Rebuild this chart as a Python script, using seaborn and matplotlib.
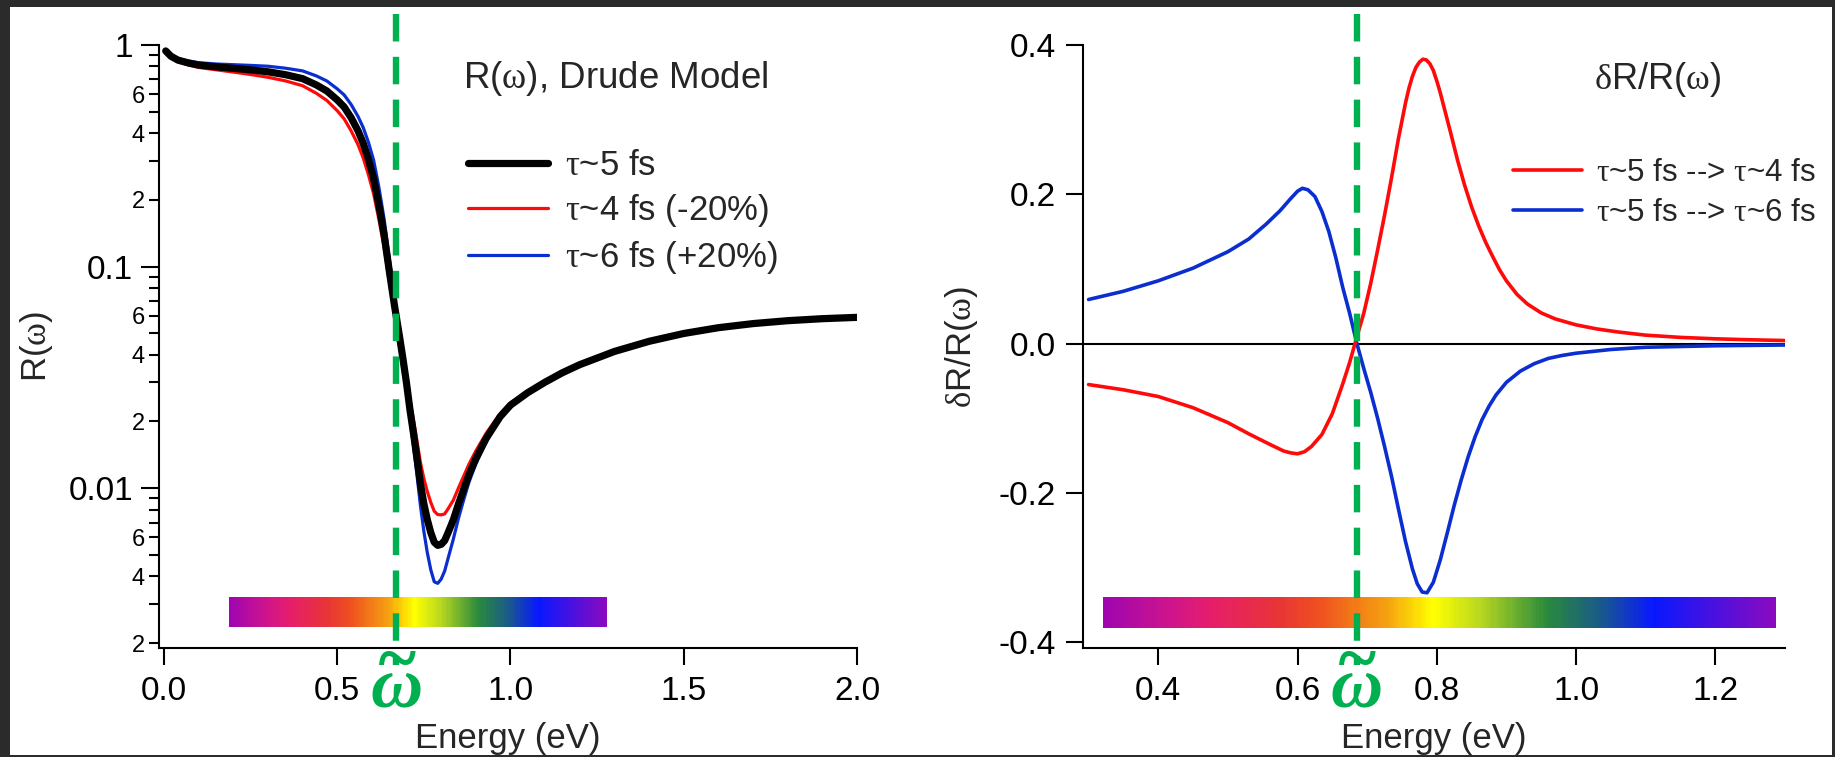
import numpy as np
import pandas as pd
import matplotlib
matplotlib.use("Agg")
import matplotlib.pyplot as plt
import matplotlib.transforms as mtransforms
import seaborn as sns
from matplotlib.colors import LinearSegmentedColormap
from matplotlib.lines import Line2D
from matplotlib.patches import Rectangle
from matplotlib.ticker import FixedLocator, FixedFormatter

# ---------------------------------------------------------------- data
# Reflectivity R(omega) of the Drude model for three scattering times
E_left = [0.005, 0.02, 0.04, 0.07, 0.10, 0.15, 0.20, 0.25, 0.30, 0.35,
          0.40, 0.44, 0.47, 0.50, 0.52, 0.54, 0.56, 0.575, 0.59, 0.605,
          0.62, 0.635, 0.65, 0.665, 0.68, 0.69, 0.70, 0.71, 0.72, 0.73,
          0.74, 0.75, 0.76, 0.77, 0.78, 0.79, 0.80, 0.81, 0.82, 0.835,
          0.85, 0.865, 0.88, 0.90, 0.93, 0.97, 1.00, 1.05, 1.10, 1.15,
          1.20, 1.30, 1.40, 1.50, 1.60, 1.70, 1.80, 1.90, 2.00]
R_5fs = [0.94, 0.89, 0.855, 0.83, 0.812, 0.797, 0.785, 0.772, 0.757, 0.735,
         0.705, 0.66, 0.62, 0.565, 0.525, 0.47, 0.41, 0.36, 0.305, 0.25,
         0.19, 0.14, 0.096, 0.067, 0.048, 0.038, 0.0297, 0.0225, 0.0177, 0.0137,
         0.0105, 0.0085, 0.0072, 0.0063, 0.0057, 0.00552, 0.00558, 0.0058, 0.0063, 0.0072,
         0.0085, 0.0099, 0.0115, 0.0136, 0.0168, 0.021, 0.0237, 0.0270, 0.0301, 0.0332,
         0.0361, 0.0414, 0.0460, 0.0499, 0.0530, 0.0553, 0.0570, 0.0582, 0.0590]
R_4fs = [0.935, 0.881, 0.842, 0.813, 0.792, 0.773, 0.755, 0.736, 0.715, 0.689,
         0.655, 0.605, 0.562, 0.505, 0.464, 0.410, 0.355, 0.309, 0.260, 0.213,
         0.164, 0.123, 0.087, 0.0634, 0.0476, 0.0389, 0.0315, 0.0248, 0.0203, 0.01639,
         0.0131, 0.01103, 0.00965, 0.00862, 0.00787, 0.00760, 0.00758, 0.00765, 0.00808, 0.00883,
         0.01003, 0.01134, 0.01282, 0.01473, 0.01772, 0.02167, 0.02427, 0.02743, 0.03043, 0.03347,
         0.03632, 0.04157, 0.0462, 0.0501, 0.0532, 0.0555, 0.0571, 0.0583, 0.0591]
R_6fs = [0.945, 0.899, 0.868, 0.847, 0.832, 0.821, 0.815, 0.809, 0.802, 0.786,
         0.764, 0.725, 0.688, 0.634, 0.595, 0.539, 0.476, 0.424, 0.364, 0.302,
         0.229, 0.165, 0.109, 0.072, 0.0488, 0.0372, 0.0282, 0.0206, 0.01556, 0.01152,
         0.00837, 0.00638, 0.00511, 0.00428, 0.00378, 0.00372, 0.00389, 0.00423, 0.00483, 0.00589,
         0.00733, 0.00887, 0.01063, 0.01287, 0.01624, 0.02062, 0.02339, 0.02678, 0.02995, 0.03307,
         0.03599, 0.04132, 0.0459, 0.0498, 0.0529, 0.0552, 0.0569, 0.0581, 0.0589]

# Relative change dR/R when tau goes 5 fs -> 4 fs
E_red = [0.30, 0.35, 0.40, 0.45, 0.50, 0.53, 0.56, 0.58, 0.59, 0.60,
         0.61, 0.62, 0.635, 0.65, 0.665, 0.675, 0.685, 0.695, 0.705, 0.715,
         0.725, 0.735, 0.745, 0.755, 0.76, 0.765, 0.77, 0.775, 0.78, 0.785,
         0.79, 0.795, 0.80, 0.805, 0.81, 0.82, 0.83, 0.84, 0.85, 0.86,
         0.87, 0.88, 0.89, 0.90, 0.915, 0.93, 0.95, 0.97, 1.00, 1.03,
         1.06, 1.10, 1.15, 1.20, 1.25, 1.30]
dR_red = [-0.055, -0.062, -0.071, -0.086, -0.106, -0.121, -0.135, -0.144, -0.1465, -0.1478,
          -0.145, -0.138, -0.122, -0.094, -0.054, -0.025, 0.008, 0.040, 0.080, 0.125,
          0.172, 0.222, 0.275, 0.322, 0.342, 0.358, 0.370, 0.377, 0.381, 0.380,
          0.375, 0.366, 0.352, 0.336, 0.318, 0.282, 0.245, 0.212, 0.183, 0.158,
          0.136, 0.117, 0.099, 0.084, 0.066, 0.053, 0.041, 0.033, 0.025, 0.0195,
          0.0155, 0.0112, 0.0082, 0.0063, 0.0050, 0.0040]

# Relative change dR/R when tau goes 5 fs -> 6 fs
E_blue = [0.30, 0.35, 0.40, 0.45, 0.50, 0.53, 0.555, 0.575, 0.59, 0.60,
          0.607, 0.615, 0.625, 0.635, 0.645, 0.655, 0.665, 0.675, 0.685, 0.695,
          0.705, 0.715, 0.725, 0.735, 0.745, 0.755, 0.765, 0.772, 0.779, 0.786,
          0.795, 0.805, 0.815, 0.825, 0.835, 0.845, 0.855, 0.865, 0.875, 0.885,
          0.90, 0.92, 0.94, 0.96, 0.98, 1.00, 1.05, 1.10, 1.15, 1.20, 1.30]
dR_blue = [0.059, 0.070, 0.084, 0.101, 0.123, 0.140, 0.160, 0.178, 0.194, 0.204,
           0.208, 0.206, 0.197, 0.177, 0.150, 0.115, 0.075, 0.040, 0.001, -0.033,
           -0.065, -0.100, -0.138, -0.178, -0.222, -0.265, -0.302, -0.322, -0.333, -0.334,
           -0.320, -0.290, -0.254, -0.217, -0.183, -0.152, -0.125, -0.102, -0.084, -0.069,
           -0.052, -0.037, -0.027, -0.020, -0.016, -0.013, -0.008, -0.005, -0.004, -0.003, -0.002]

# Characteristic frequency marked on both panels (eV)
omega_tilde_left = 0.67
omega_tilde_right = 0.685

# Tick positions and labels
left_xticks = [0.0, 0.5, 1.0, 1.5, 2.0]
left_xlabels = ["0.0", "0.5", "1.0", "1.5", "2.0"]
left_yticks = [1.0, 0.1, 0.01]
left_ylabels = ["1", "0.1", "0.01"]
right_xticks = [0.4, 0.6, 0.8, 1.0, 1.2]
right_xlabels = ["0.4", "0.6", "0.8", "1.0", "1.2"]
right_yticks = [-0.4, -0.2, 0.0, 0.2, 0.4]
right_ylabels = ["-0.4", "-0.2", "0.0", "0.2", "0.4"]

# Visible-spectrum strip colours
spectrum_stops = [0.00, 0.10, 0.16, 0.26, 0.32, 0.42, 0.49, 0.56, 0.66, 0.74, 0.82, 1.00]
spectrum_colors = ["#a005b0", "#d0158a", "#e61e6a", "#e83535", "#ef5020", "#f5a010",
                   "#ffff00", "#b8d820", "#2a8a3c", "#1a5a8a", "#0818ff", "#8a0ac0"]

# ---------------------------------------------------------------- style
sns.set_style("ticks")
plt.rcParams["font.family"] = ["Liberation Sans", "DejaVu Sans"]
plt.rcParams["mathtext.fontset"] = "custom"
plt.rcParams["mathtext.rm"] = "Liberation Serif"
plt.rcParams["mathtext.it"] = "Liberation Serif:italic"
plt.rcParams["mathtext.bf"] = "Liberation Serif:bold"
plt.rcParams["axes.linewidth"] = 1.5

RED = "#ff0a0a"
BLUE = "#0a2ecf"
GREEN = "#00b050"
FRAME = "#2b2b2b"

W, H = 1835, 757
fig = plt.figure(figsize=(W / 100, H / 100), dpi=100)
fig.patch.set_facecolor("white")

ax1 = fig.add_axes([159 / W, 1 - 648 / H, (857 - 159) / W, (648 - 45) / H])
ax2 = fig.add_axes([1083 / W, 1 - 648 / H, (1785 - 1083) / W, (648 - 45) / H])

spectrum = LinearSegmentedColormap.from_list("spectrum", list(zip(spectrum_stops, spectrum_colors)))

# ---------------------------------------------------------------- left panel
df_left = pd.DataFrame({"E": E_left, "R5": R_5fs, "R4": R_4fs, "R6": R_6fs})
lab5 = r"$\mathrm{\tau}$~5 fs"
lab4 = r"$\mathrm{\tau}$~4 fs (-20%)"
lab6 = r"$\mathrm{\tau}$~6 fs (+20%)"
sns.lineplot(data=df_left, x="E", y="R4", ax=ax1, color=RED, lw=2.3, legend=False)
sns.lineplot(data=df_left, x="E", y="R6", ax=ax1, color=BLUE, lw=2.3, legend=False)
sns.lineplot(data=df_left, x="E", y="R5", ax=ax1, color="black", lw=5.2, legend=False,
             solid_capstyle="round", solid_joinstyle="round")
ax1.set_yscale("log")
ax1.set_xlim(-0.0144, 2.0)
ax1.set_ylim(0.0019, 1.0)

# spectrum strip
xe = np.linspace(0.188, 1.279, 301)
ax1.pcolormesh(xe, [0.002365, 0.00323], np.linspace(0, 1, 300)[np.newaxis, :],
               cmap=spectrum, shading="flat", antialiased=False, zorder=1)

ax1.xaxis.set_major_locator(FixedLocator(left_xticks))
ax1.xaxis.set_major_formatter(FixedFormatter(left_xlabels))
ax1.yaxis.set_major_locator(FixedLocator(left_yticks))
ax1.yaxis.set_major_formatter(FixedFormatter(left_ylabels))
minor_vals, minor_labs = [], []
for dec in [0.1, 0.01, 0.001]:
    for n in range(9, 1, -1):
        v = n * dec
        if v >= 0.0019:
            minor_vals.append(v)
            minor_labs.append(str(n) if n in (2, 4, 6) else "")
ax1.yaxis.set_minor_locator(FixedLocator(minor_vals))
ax1.yaxis.set_minor_formatter(FixedFormatter(minor_labs))
ax1.xaxis.set_minor_locator(FixedLocator([]))

ax1.tick_params(axis="x", which="major", direction="out", length=12.5, width=1.5,
                labelsize=24, pad=8, colors="black")
ax1.tick_params(axis="y", which="major", direction="out", length=13, width=1.5,
                labelsize=24, pad=5.5, colors="black")
ax1.tick_params(axis="y", which="minor", direction="out", length=7, width=1.5,
                labelsize=17, pad=3, colors="black")

ax1.set_xlabel("Energy (eV)", fontsize=25, va="center")
ax1.xaxis.set_label_coords(0.5, -0.150)
ax1.set_ylabel(r"R($\mathrm{\omega}$)", fontsize=25, va="center")
ax1.yaxis.set_label_coords(-0.1748, 0.5)

ax1.text(0.4355, 0.9287, r"R($\mathrm{\omega}$), Drude Model", transform=ax1.transAxes,
         fontsize=26.5, va="baseline", ha="left")

handles_left = [Line2D([], [], color="black", lw=5.2),
                Line2D([], [], color=RED, lw=2.3),
                Line2D([], [], color=BLUE, lw=2.3)]
ax1.legend(handles_left, [lab5, lab4, lab6], loc="upper left",
           bbox_to_anchor=(0.4427, 0.828), frameon=False, fontsize=25,
           borderpad=0, borderaxespad=0, handlelength=2.3, handletextpad=0.5,
           labelspacing=0.29)

# ---------------------------------------------------------------- right panel
df_red = pd.DataFrame({"E": E_red, "dR": dR_red})
df_blue = pd.DataFrame({"E": E_blue, "dR": dR_blue})
ax2.axhline(0.0, color="black", lw=1.5, zorder=1)
sns.lineplot(data=df_blue, x="E", y="dR", ax=ax2, color=BLUE, lw=2.6, legend=False,
             solid_joinstyle="round")
sns.lineplot(data=df_red, x="E", y="dR", ax=ax2, color=RED, lw=2.6, legend=False,
             solid_joinstyle="round")
ax2.set_xlim(0.292, 1.300)
ax2.set_ylim(-0.408, 0.400)

xe2 = np.linspace(0.321, 1.2876, 301)
ax2.pcolormesh(xe2, [-0.3815, -0.340], np.linspace(0, 1, 300)[np.newaxis, :],
               cmap=spectrum, shading="flat", antialiased=False, zorder=1)

ax2.xaxis.set_major_locator(FixedLocator(right_xticks))
ax2.xaxis.set_major_formatter(FixedFormatter(right_xlabels))
ax2.yaxis.set_major_locator(FixedLocator(right_yticks))
ax2.yaxis.set_major_formatter(FixedFormatter(right_ylabels))
ax2.xaxis.set_minor_locator(FixedLocator([]))
ax2.yaxis.set_minor_locator(FixedLocator([]))
ax2.tick_params(axis="x", which="major", direction="out", length=12.5, width=1.5,
                labelsize=24, pad=8, colors="black")
ax2.tick_params(axis="y", which="major", direction="out", length=12.5, width=1.5,
                labelsize=24, pad=7, colors="black")

ax2.set_xlabel("Energy (eV)", fontsize=25, va="center")
ax2.xaxis.set_label_coords(0.5, -0.150)
ax2.set_ylabel(r"$\mathrm{\delta}$R/R($\mathrm{\omega}$)", fontsize=25, va="center")
ax2.yaxis.set_label_coords(-0.1724, 0.5)

ax2.text(0.728, 0.927, r"$\mathrm{\delta}$R/R($\mathrm{\omega}$)", transform=ax2.transAxes,
         fontsize=26, va="baseline", ha="left")

handles_right = [Line2D([], [], color=RED, lw=2.6), Line2D([], [], color=BLUE, lw=2.6)]
ax2.legend(handles_right,
           [r"$\mathrm{\tau}$~5 fs --> $\mathrm{\tau}$~4 fs",
            r"$\mathrm{\tau}$~5 fs --> $\mathrm{\tau}$~6 fs"],
           loc="upper left", bbox_to_anchor=(0.6125, 0.8126), frameon=False, fontsize=22.5,
           borderpad=0, borderaxespad=0, handlelength=2.2, handletextpad=0.45,
           labelspacing=0.31)

# ---------------------------------------------------------------- common decoration
for ax, w0 in [(ax1, omega_tilde_left), (ax2, omega_tilde_right)]:
    for side in ["top", "right"]:
        ax.spines[side].set_visible(False)
    for side in ["left", "bottom"]:
        ax.spines[side].set_linewidth(1.5)
        ax.spines[side].set_color("black")
    ax.set_facecolor("white")
    tr = mtransforms.blended_transform_factory(ax.transData, ax.transAxes)
    ax.plot([w0, w0], [1.0506, -0.028], transform=tr, color=GREEN, lw=4.6,
            ls=(0, (4.3, 2.4)), clip_on=False, zorder=5, dash_capstyle="butt")
    # omega-tilde marker below the axis: bold tilde stacked over a bold italic omega
    ax.text(w0, -0.0978, "~\n\u03c9", transform=tr, color=GREEN, fontsize=52,
            family="Liberation Serif", style="italic", weight="bold",
            ha="center", va="baseline", multialignment="center", linespacing=0.19,
            clip_on=False)

# dark surround of the figure
for (x0, y0, w, h) in [(0, H - 7, W, 7), (0, 0, 10, H), (W - 3, 0, 3, H), (0, 0, W, 2)]:
    fig.patches.append(Rectangle((x0 / W, y0 / H), w / W, h / H, transform=fig.transFigure,
                                 facecolor=FRAME, edgecolor="none", zorder=10))

fig.savefig("out.png", dpi=100, facecolor="white")
